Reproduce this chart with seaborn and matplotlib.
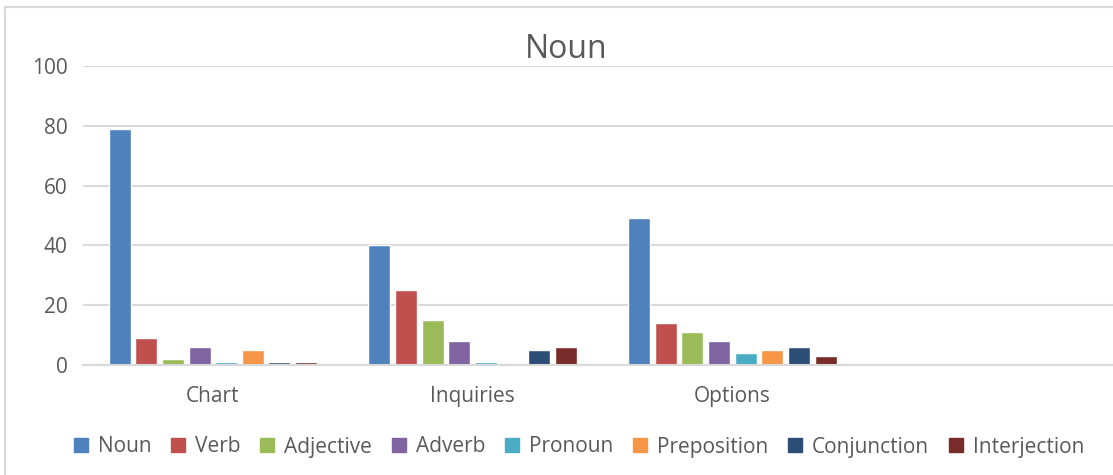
import pandas as pd
import matplotlib
matplotlib.use('Agg')
import matplotlib.pyplot as plt
import matplotlib.patches as mpatches
import seaborn as sns

# data
categories = ['Chart', 'Inquiries', 'Options']
parts = ['Noun', 'Verb', 'Adjective', 'Adverb', 'Pronoun', 'Preposition', 'Conjunction', 'Interjection']
chart_vals = [79, 9, 2, 6, 1, 5, 1, 1]
inquiries_vals = [40, 25, 15, 8, 1, 0, 5, 6]
options_vals = [49, 14, 11, 8, 4, 5, 6, 3]
colors = ['#4F81BD', '#C0504D', '#9BBB59', '#8064A2', '#4BACC6', '#F79646', '#2C4D75', '#772C2A']

rows = []
for cat, vals in zip(categories, [chart_vals, inquiries_vals, options_vals]):
    for p, v in zip(parts, vals):
        rows.append({'category': cat, 'part': p, 'value': v})
df = pd.DataFrame(rows)

sns.set_style('white')
plt.rcParams['font.family'] = ['Open Sans', 'DejaVu Sans']
text_color = '#595959'
grid_color = '#D9D9D9'

fig = plt.figure(figsize=(11.13, 4.75), dpi=100)
# plot area runs a little past the right edge of the image, as in the source
ax = fig.add_axes([83 / 1113, 1 - 365 / 475, 1039 / 1113, (365 - 66) / 475])

# empty fourth slot, like the source spreadsheet
order = categories + [' ']
sns.barplot(data=df, x='category', y='value', hue='part', order=order, hue_order=parts,
            palette=colors, width=0.82, gap=0.17, ax=ax, legend=False, saturation=1)

ax.set_ylim(0, 100)
ax.set_yticks(range(0, 101, 20))
ax.yaxis.grid(True, color=grid_color, linewidth=1.5)
ax.set_axisbelow(True)
for s in ['top', 'right', 'left']:
    ax.spines[s].set_visible(False)
ax.spines['bottom'].set_color(grid_color)
ax.spines['bottom'].set_linewidth(1.5)
ax.set_xlabel('')
ax.set_ylabel('')
ax.tick_params(axis='y', length=0, pad=11, labelsize=15, labelcolor=text_color)
ax.tick_params(axis='x', length=0, pad=15, labelsize=15, labelcolor=text_color)

fig.text(566 / 1113, 1 - 50 / 475, 'Noun', ha='center', va='center', fontsize=23, color=text_color)

handles = [mpatches.Patch(color=c, label=p) for c, p in zip(colors, parts)]
fig.legend(handles=handles, loc='center', bbox_to_anchor=(579 / 1113, 1 - 447 / 475), ncol=8,
           frameon=False, fontsize=15, labelcolor=text_color, handlelength=0.67, handleheight=0.67,
           handletextpad=0.48, columnspacing=0.95)

# outer chart border
fig.patches.append(mpatches.Rectangle((5 / 1113, -0.1), 1.1, 1 - 7 / 475 + 0.1, transform=fig.transFigure,
                                      fill=False, edgecolor=grid_color, linewidth=1.5))

fig.savefig('out.png', dpi=100)
